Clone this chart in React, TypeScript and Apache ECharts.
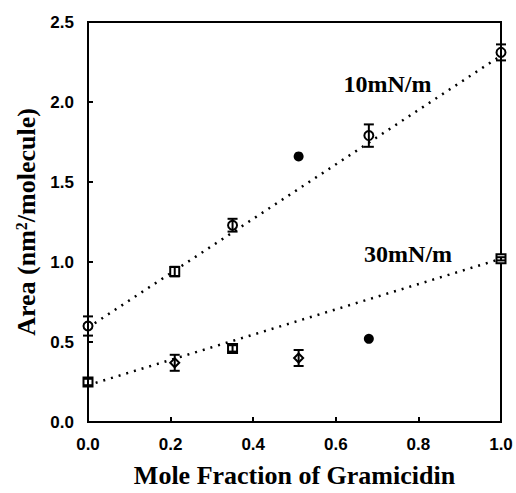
import React, { useEffect, useRef } from "react";
import * as echarts from "echarts";

// 10 mN/m data: [x, y, error]
const fraction10 = [0.0, 0.21, 0.35, 0.68, 1.0];
const area10 = [0.6, 0.94, 1.23, 1.79, 2.31];
const err10 = [0.06, 0.03, 0.04, 0.07, 0.05];
const symbols10 = ["circle", "rect", "circle", "circle", "circle"];
const outlier10 = [[0.51, 1.66]];
const trend10 = [[0.0, 0.59], [1.0, 2.29]];

// 30 mN/m data
const fraction30 = [0.0, 0.21, 0.35, 0.51, 1.0];
const area30 = [0.25, 0.37, 0.46, 0.4, 1.02];
const err30 = [0.02, 0.05, 0.02, 0.05, 0.01];
const symbols30 = ["rect", "diamond", "rect", "diamond", "rect"];
const outlier30 = [[0.68, 0.52]];
const trend30 = [[0.0, 0.23], [1.0, 1.02]];

const labels = [
  { name: "10mN/m", pos: [0.725, 2.11] },
  { name: "30mN/m", pos: [0.775, 1.05] },
];

const serif = "'Liberation Serif', 'Times New Roman', serif";
const sans = "'Liberation Sans', Arial, sans-serif";

function errorSeries(xs: number[], ys: number[], es: number[]) {
  return {
    type: "custom",
    z: 5,
    data: xs.map((x, i) => [x, ys[i], es[i]]),
    renderItem: (params: any, api: any) => {
      const x = api.value(0);
      const y = api.value(1);
      const e = api.value(2);
      const top = api.coord([x, y + e]);
      const bot = api.coord([x, y - e]);
      const hw = 5;
      const st = { stroke: "#000", lineWidth: 2 };
      return {
        type: "group",
        children: [
          { type: "line", shape: { x1: top[0], y1: top[1], x2: bot[0], y2: bot[1] }, style: st },
          { type: "line", shape: { x1: top[0] - hw, y1: top[1], x2: top[0] + hw, y2: top[1] }, style: st },
          { type: "line", shape: { x1: bot[0] - hw, y1: bot[1], x2: bot[0] + hw, y2: bot[1] }, style: st },
        ],
      };
    },
  };
}

function pointSeries(xs: number[], ys: number[], syms: string[]) {
  return {
    type: "scatter",
    z: 4,
    data: xs.map((x, i) => ({ value: [x, ys[i]], symbol: syms[i] })),
    symbolSize: 9,
    itemStyle: { color: "#fff", borderColor: "#000", borderWidth: 2, opacity: 1 },
  };
}

export default function App() {
  const ref = useRef<HTMLDivElement>(null);
  useEffect(() => {
    document.body.style.margin = "0";
    const chart = echarts.init(ref.current!, null, { renderer: "svg" });
    const trendStyle = { color: "#000", width: 2.5, type: [2, 6] as any };
    chart.setOption({
      animation: false,
      backgroundColor: "#fff",
      grid: {
        left: 88,
        right: 15,
        top: 22,
        bottom: 69,
        show: true,
        borderColor: "#000",
        borderWidth: 2,
      },
      xAxis: {
        type: "value",
        min: 0,
        max: 1,
        interval: 0.2,
        name: "Mole Fraction of Gramicidin",
        nameLocation: "middle",
        nameGap: 40,
        nameTextStyle: { fontFamily: serif, fontWeight: "bold", fontSize: 26, color: "#000" },
        axisLine: { lineStyle: { color: "#000", width: 2 } },
        axisTick: { inside: true, length: 5, lineStyle: { color: "#000", width: 2 } },
        splitLine: { show: false },
        axisLabel: {
          margin: 14,
          fontFamily: sans,
          fontWeight: "bold",
          fontSize: 17,
          color: "#000",
          formatter: (v: number) => v.toFixed(1),
        },
      },
      yAxis: {
        type: "value",
        min: 0,
        max: 2.5,
        interval: 0.5,
        name: "Area (nm{sup|2}/molecule)",
        nameLocation: "middle",
        nameGap: 44,
        nameTextStyle: {
          fontFamily: serif,
          fontWeight: "bold",
          fontSize: 26,
          color: "#000",
          rich: {
            sup: { fontFamily: serif, fontWeight: "bold", fontSize: 16, verticalAlign: "top", color: "#000", padding: [0, 0, 10, 0] },
          },
        },
        axisLine: { lineStyle: { color: "#000", width: 2 } },
        axisTick: { inside: true, length: 5, lineStyle: { color: "#000", width: 2 } },
        splitLine: { show: false },
        axisLabel: {
          margin: 14,
          fontFamily: sans,
          fontWeight: "bold",
          fontSize: 17,
          color: "#000",
          formatter: (v: number) => v.toFixed(1),
        },
      },
      series: [
        { type: "line", data: trend10, symbol: "none", lineStyle: trendStyle, z: 2 },
        { type: "line", data: trend30, symbol: "none", lineStyle: trendStyle, z: 2 },
        pointSeries(fraction10, area10, symbols10),
        pointSeries(fraction30, area30, symbols30),
        errorSeries(fraction10, area10, err10),
        errorSeries(fraction30, area30, err30),
        {
          type: "scatter",
          data: [...outlier10, ...outlier30],
          symbol: "circle",
          symbolSize: 10,
          itemStyle: { color: "#000", opacity: 1 },
          z: 4,
        },
        {
          type: "scatter",
          data: labels.map((l) => ({ value: l.pos, name: l.name })),
          symbolSize: 0,
          itemStyle: { opacity: 1 },
          label: {
            show: true,
            position: "inside",
            formatter: (p: any) => p.name,
            fontFamily: serif,
            fontWeight: "bold",
            fontSize: 24,
            color: "#000",
            opacity: 1,
          },
          z: 6,
        },
      ],
    });
    return () => chart.dispose();
  }, []);
  return <div ref={ref} style={{ width: 516, height: 493 }} />;
}
